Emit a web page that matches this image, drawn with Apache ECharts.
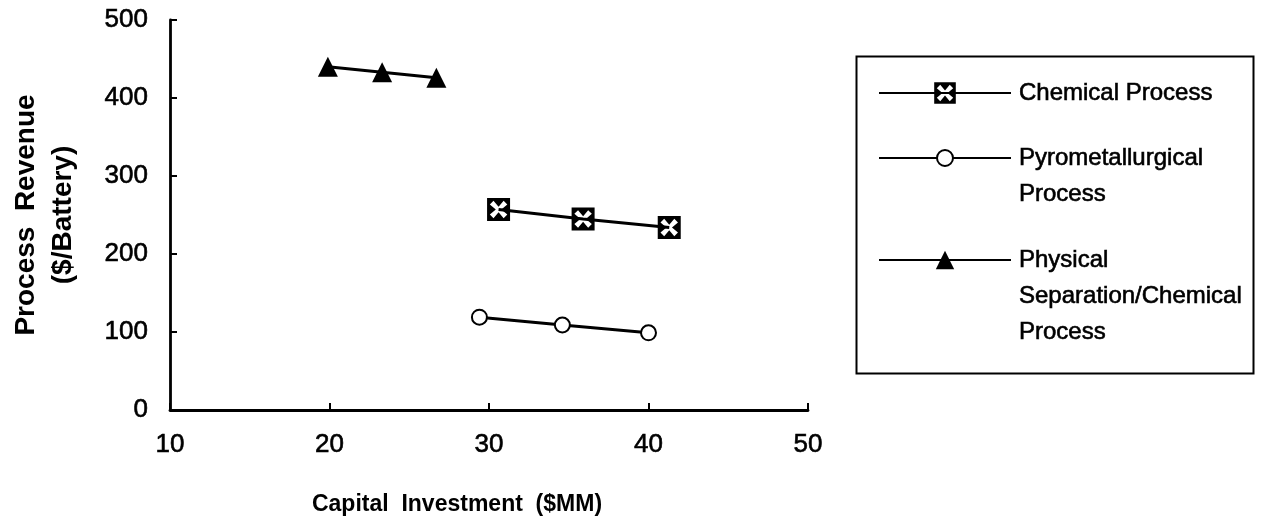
<!DOCTYPE html>
<html>
<head>
<meta charset="utf-8">
<script src="https://cdn.jsdelivr.net/npm/echarts@6/dist/echarts.min.js"></script>
<style>html,body{margin:0;padding:0;background:#fff}#c{width:1261px;height:525px}</style>
</head>
<body>
<div id="c"></div>
<script>
// ---- data ----
const seriesNames = ['Chemical Process', 'Pyrometallurgical Process', 'Physical Separation/Chemical Process'];
const legendLabels = ['Chemical Process', 'Pyrometallurgical\nProcess', 'Physical\nSeparation/Chemical\nProcess'];
const chemX = [30.6, 35.9, 41.3];
const chemY = [257, 245, 234];
const pyroX = [29.4, 34.6, 40.0];
const pyroY = [119, 109, 99];
const physX = [19.9, 23.3, 26.7];
const physY = [440, 433, 426];
const xTicks = [10, 20, 30, 40, 50];
const yTicks = [0, 100, 200, 300, 400, 500];

const zip = (xs, ys) => xs.map((x, i) => [x, ys[i]]);
const starBox = 'path://M0 0L100 0L100 100L0 100Z M38 50L12 72L28 88L50 62L72 88L88 72L62 50L88 28L72 12L50 38L28 12L12 28Z';
const FONT = 'Liberation Sans, Arial, sans-serif';
const LH = 36;
const heavy = {textBorderColor: '#000', textBorderWidth: 0.6};

const chart = echarts.init(document.getElementById('c'), null, {renderer: 'canvas'});

function legendFor(i, top, itemH) {
  const pad = i === 0 ? '' : (i === 1 ? ' \n' : ' \n \n');
  return {
    data: [seriesNames[i]],
    left: 878, top: top, padding: 0,
    itemWidth: 132, itemHeight: itemH, itemGap: 0,
    selectedMode: false,
    formatter: () => pad + legendLabels[i],
    textStyle: Object.assign({color: '#000', fontFamily: FONT, fontSize: 24, lineHeight: LH, padding: [0, 0, 0, 3]}, heavy)
  };
}

chart.setOption({
  animation: false,
  backgroundColor: '#fff',
  grid: {left: 170, right: 453, top: 20, bottom: 115, containLabel: false},
  xAxis: {
    type: 'value', min: xTicks[0], max: xTicks[xTicks.length - 1], interval: 10,
    name: 'Capital  Investment  ($MM)', nameLocation: 'middle', nameGap: 83,
    nameTextStyle: {color: '#000', fontFamily: FONT, fontSize: 23, fontWeight: 'bold', padding: [0, 64, 0, 0]},
    axisLine: {lineStyle: {color: '#000', width: 2.8}},
    axisTick: {inside: true, length: 7, lineStyle: {color: '#000', width: 2}},
    axisLabel: Object.assign({color: '#000', fontFamily: FONT, fontSize: 26, margin: 22}, heavy),
    splitLine: {show: false}
  },
  yAxis: {
    type: 'value', min: yTicks[0], max: yTicks[yTicks.length - 1], interval: 100,
    name: 'Process  Revenue\n($/Battery)', nameLocation: 'middle', nameGap: 88,
    nameTextStyle: {color: '#000', fontFamily: FONT, fontSize: 28, fontWeight: 'bold', lineHeight: 37},
    axisLine: {lineStyle: {color: '#000', width: 2.8}},
    axisTick: {inside: true, length: 7, lineStyle: {color: '#000', width: 2}},
    axisLabel: Object.assign({color: '#000', fontFamily: FONT, fontSize: 26, margin: 22}, heavy),
    splitLine: {show: false}
  },
  legend: [
    legendFor(0, 93 - LH / 2, 27),
    legendFor(1, 158 - LH * 1.5, 20),
    legendFor(2, 260 - LH * 2.5, 23)
  ],
  graphic: [{
    type: 'rect', left: 854, top: 54, silent: true,
    shape: {width: 397, height: 317},
    style: {fill: 'none', stroke: '#000', lineWidth: 2}
  }],
  series: [
    {
      name: seriesNames[0], type: 'line', data: zip(chemX, chemY),
      symbol: starBox, symbolSize: 23, showAllSymbol: true,
      lineStyle: {color: '#000', width: 3}, itemStyle: {color: '#000'}
    },
    {
      name: seriesNames[1], type: 'line', data: zip(pyroX, pyroY),
      symbol: 'emptyCircle', symbolSize: 15,
      lineStyle: {color: '#000', width: 3}, itemStyle: {color: '#000', borderWidth: 2.5}
    },
    {
      name: seriesNames[2], type: 'line', data: zip(physX, physY),
      symbol: 'triangle', symbolSize: 20,
      lineStyle: {color: '#000', width: 3}, itemStyle: {color: '#000'}
    }
  ]
});
</script>
</body>
</html>
